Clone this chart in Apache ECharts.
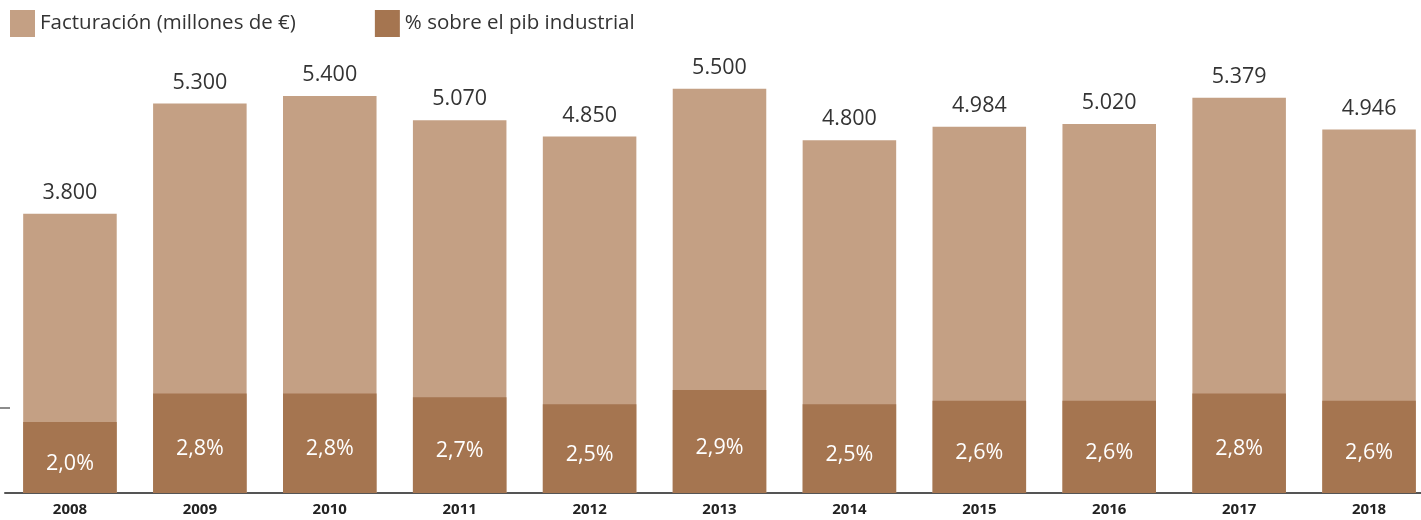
<!DOCTYPE html>
<html>
<head>
<meta charset="utf-8">
<script src="https://cdn.jsdelivr.net/npm/echarts@6/dist/echarts.min.js"></script>
<style>
  html, body { margin: 0; padding: 0; background: #fff; }
  #chart { width: 1421px; height: 520px; }
</style>
</head>
<body>
<div id="chart"></div>
<script>
// datos
var years = ['2008', '2009', '2010', '2011', '2012', '2013', '2014', '2015', '2016', '2017', '2018'];
var facturacion = [3800, 5300, 5400, 5070, 4850, 5500, 4800, 4984, 5020, 5379, 4946];
var pibPct = [2.0, 2.8, 2.8, 2.7, 2.5, 2.9, 2.5, 2.6, 2.6, 2.8, 2.6];

var claro = '#C4A084';
var oscuro = '#A57550';
var fuente = '"Open Sans", "Noto Sans", sans-serif';

function miles(v) {
	return String(v).replace(/\B(?=(\d{3})+(?!\d))/g, '.');
}

var myChart = echarts.init(document.getElementById('chart'));

var option = {
	animation: false,
	textStyle: { fontFamily: fuente },
	legend: {
		left: 5,
		top: 5,
		itemWidth: 25,
		itemHeight: 27,
		itemGap: 79,
		icon: 'rect',
		textStyle: { fontSize: 20.5, color: '#333', fontFamily: fuente },
		data: ['Facturación (millones de €)', '% sobre el pib industrial']
	},
	grid: { left: 5, width: 1429, top: 52, bottom: 27, containLabel: false, outerBoundsMode: 'none' },
	xAxis: {
		type: 'category',
		data: years,
		axisLine: { lineStyle: { color: '#555', width: 2 } },
		axisTick: { show: false },
		axisLabel: { color: '#222', fontSize: 15, fontWeight: 'bold', margin: 9 }
	},
	yAxis: [
		{ type: 'value', min: 0, max: 6000, show: false },
		{ type: 'value', min: 0, max: 12.42, show: false }
	],
	series: [
		{
			name: 'Facturación (millones de €)',
			type: 'bar',
			yAxisIndex: 0,
			data: facturacion,
			barWidth: '72%',
			barGap: '-100%',
			itemStyle: { color: claro },
			label: {
				show: true,
				position: 'top',
				distance: 10,
				color: '#333',
				fontSize: 21.5,
				formatter: function (p) { return miles(p.value); }
			}
		},
		{
			name: '% sobre el pib industrial',
			type: 'bar',
			yAxisIndex: 1,
			data: pibPct,
			barWidth: '72%',
			barGap: '-100%',
			itemStyle: { color: oscuro },
			label: {
				show: true,
				position: 'inside',
				offset: [0, 6],
				color: '#fff',
				fontSize: 21.5,
				formatter: function (p) { return p.value.toFixed(1).replace('.', ',') + '%'; }
			}
		}
	],
	graphic: [
		{ type: 'line', shape: { x1: 0, y1: 408, x2: 10, y2: 408 }, style: { stroke: '#666', lineWidth: 1.5 } }
	]
};

myChart.setOption(option);
</script>
</body>
</html>
